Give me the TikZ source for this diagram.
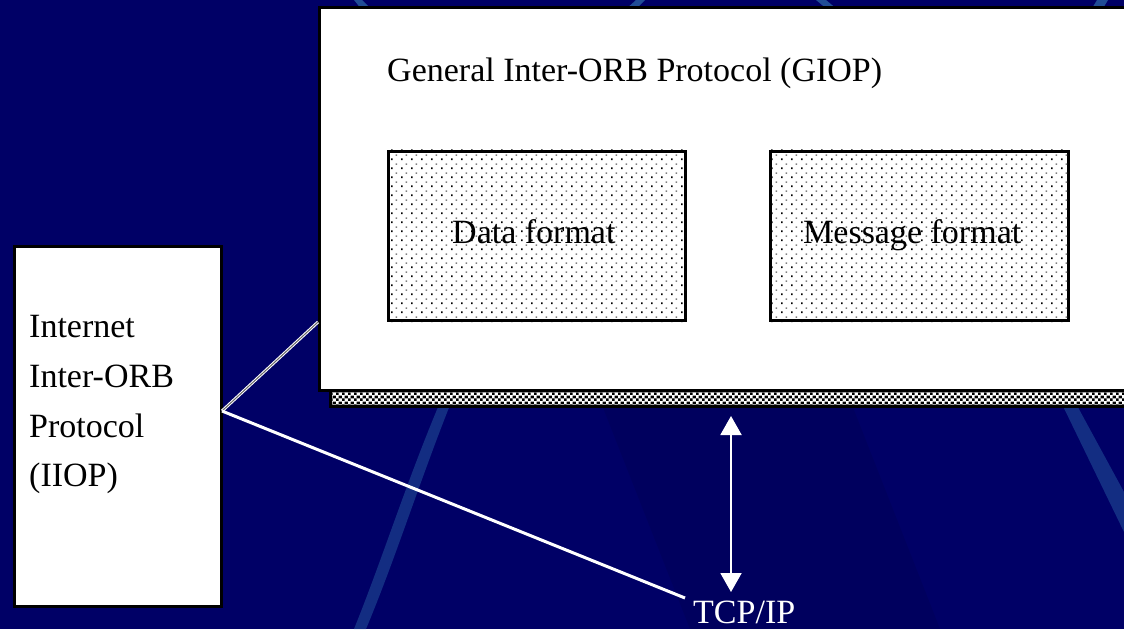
\documentclass[tikz,border=0pt]{standalone}
\usepackage{fontspec}
\setmainfont{Liberation Serif}
\usetikzlibrary{patterns.meta,arrows.meta}
\definecolor{navy}{RGB}{0,0,102}
\definecolor{bandblue}{RGB}{32,76,150}
% speckled fill of the format boxes
\tikzdeclarepattern{
  name=speckle, type=colored,
  bottom left={(0pt,0pt)}, top right={(10pt,9pt)},
  tile size={(10pt,9pt)},
  code={
    \fill[black] (1.1pt,1.1pt) rectangle (2.9pt,2.9pt);
    \fill[black!50] (6.1pt,5.6pt) rectangle (7.9pt,7.4pt);
  }
}
% checker of the panel shadow
\tikzdeclarepattern{
  name=finechecker, type=colored,
  bottom left={(0pt,0pt)}, top right={(6pt,6pt)},
  tile size={(6pt,6pt)},
  code={
    \fill[black] (0pt,0pt) rectangle (3pt,3pt);
    \fill[black] (3pt,3pt) rectangle (6pt,6pt);
  }
}
\begin{document}
\begin{tikzpicture}[x=1pt,y=-1pt,
  frame/.style={draw=black,line width=3pt},
  label/.style={inner sep=0pt,font=\fontsize{34}{40}\selectfont},
  band/.style={fill=bandblue,draw=none},
  link/.style={draw=white,line width=3pt}]
\useasboundingbox (0,0) rectangle (1124,629);
% slide background
\fill[navy] (0,0) rectangle (1124,629);
\fill[black,opacity=0.08] (600,400) -- (690,629) -- (940,629) -- (850,400) -- cycle;
% decorative background bands
\fill[band] (354,0) -- (362,0) -- (372,10) -- (362,10) -- cycle;
\fill[band] (636,0) -- (645,0) -- (635,10) -- (625,10) -- cycle;
\fill[band] (816,0) -- (826,0) -- (838,10) -- (828,10) -- cycle;
\fill[band] (1097,0) -- (1108,0) -- (1102,10) -- (1091,10) -- cycle;
\fill[band,opacity=0.6] (441,400) -- (452,400) .. controls (420,480) and (395,560) .. (366,629) -- (354,629) .. controls (382,560) and (407,480) .. cycle;
\fill[band,opacity=0.6] (1060,400) -- (1074,400) -- (1124,492) -- (1124,532) -- cycle;
% GIOP panel with its patterned shadow
\fill[white] (330,389) rectangle (1130,406);
\fill[pattern=finechecker] (330,389) rectangle (1130,406);
\draw[black,line width=3pt] (330,389) rectangle (1130,406);
\node[frame,fill=white,minimum width=820pt,minimum height=383pt,anchor=north west,inner sep=0pt]
  (giop) at (318,6) {};
\node[label,anchor=base west] (gtitle) at (387,81) {General Inter-ORB Protocol (GIOP)};
% inner format boxes
\node[frame,fill=white,minimum width=297pt,minimum height=169pt,anchor=north west,inner sep=0pt]
  (data) at (387,150) {};
\fill[pattern=speckle]
  ([shift={(2,-2)}]data.north west) rectangle ([shift={(-2,2)}]data.south east);
\node[label,anchor=base west] (dtext) at (452,243) {Data format};
\node[frame,fill=white,minimum width=298pt,minimum height=169pt,anchor=north west,inner sep=0pt]
  (msg) at (769,150) {};
\fill[pattern=speckle]
  ([shift={(2,-2)}]msg.north west) rectangle ([shift={(-2,2)}]msg.south east);
\node[label,anchor=base west] (mtext) at (803,243) {Message format};
% IIOP box
\node[frame,fill=white,minimum width=207pt,minimum height=360pt,anchor=north west,inner sep=0pt]
  (iiop) at (13,245) {};
\node[label,anchor=base west] (i1) at (29,337) {Internet};
\node[label,anchor=base west] (i2) at (29,387) {Inter-ORB};
\node[label,anchor=base west] (i3) at (29,437) {Protocol};
\node[label,anchor=base west] (i4) at (29,486) {(IIOP)};
% transport label and links
\node[label,anchor=base west,text=white] (tcp) at (693,623) {TCP/IP};
\coordinate (iiopr) at (222,411);
\coordinate (giopl) at (318,322);
\coordinate (tcpl) at (685,598);
\draw[draw=white,line width=1pt,double=black!60,double distance=1pt] (iiopr) -- (giopl);
\draw[link] (iiopr) -- (tcpl);
\coordinate (atop) at (731,416);
\coordinate (abot) at (731,592);
\draw[white,line width=2pt,{Triangle[width=21pt,length=19pt]}-{Triangle[width=21pt,length=19pt]}] (atop) -- (abot);
\end{tikzpicture}
\end{document}
